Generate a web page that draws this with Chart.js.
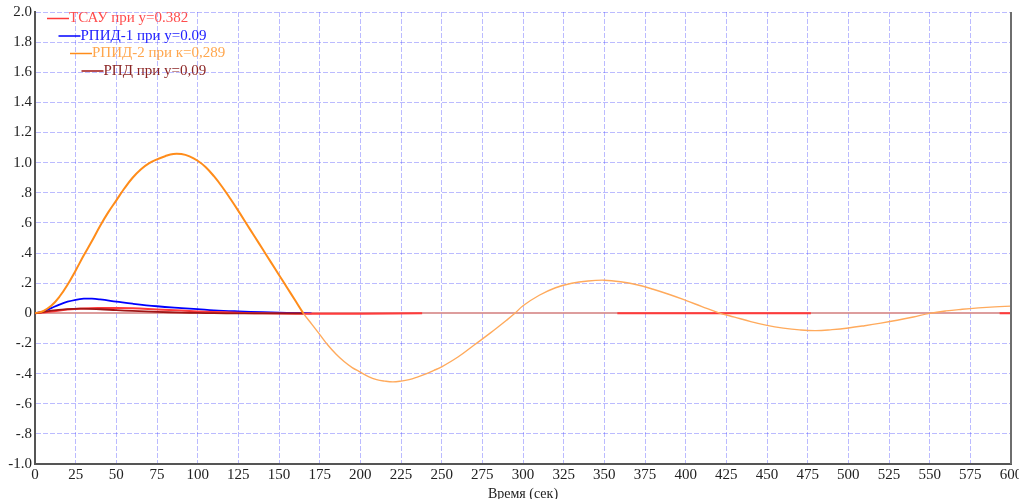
<!DOCTYPE html>
<html>
<head>
<meta charset="utf-8">
<script src="https://cdn.jsdelivr.net/npm/chart.js@4.4.0/dist/chart.umd.min.js"></script>
<style>
html,body{margin:0;padding:0;background:#fff;}
#wrap{width:1019px;height:499px;position:relative;}
</style>
</head>
<body>
<div id="wrap"><canvas id="c" width="1019" height="499"></canvas></div>
<script>
// ---- data ----
const seriesLabels = ['ТСАУ при у=0.382', 'РПИД-1 при у=0.09', 'РПИД-2 при к=0,289', 'РПД при у=0,09'];
const xTickLabels = ['0','25','50','75','100','125','150','175','200','225','250','275','300','325','350','375','400','425','450','475','500','525','550','575','600'];
const yTickLabels = ['-1.0','-.8','-.6','-.4','-.2','0','.2','.4','.6','.8','1.0','1.2','1.4','1.6','1.8','2.0'];
const xAxisTitle = 'Время (сек)';

const tsauT = [0,10,20,30,40,50,60,75,90,100,110,125,140,160,180,200,238, 239, 358,477, 478, 593,600];
const tsauV = [0,0.012,0.025,0.032,0.035,0.036,0.034,0.026,0.018,0.013,0.009,0.004,0,-0.002,-0.003,-0.002,0, null, 0,0, null, 0,0];

const rpid1T = [0,5,10,15,20,25,30,35,40,50,60,75,90,100,110,125,140,150,160,170];
const rpid1V = [0,0.012,0.035,0.058,0.077,0.09,0.097,0.097,0.092,0.078,0.064,0.047,0.035,0.028,0.02,0.013,0.008,0.005,0.002,0];

const rpid2T = [0,5,10,15,20,25,30,35,40,45,50,55,60,65,70,75,80,85,90,95,100,105,110,115,120,125,130,135,140,145,150,155,160,165,
  170,175,180,185,190,195,200,205,210,215,220,225,230,235,240,245,250,260,270,280,290,295,300,310,320,330,340,350,360,370,380,390,400,410,420,
  430,440,450,460,470,480,490,500,510,520,530,540,550,560,570,580,590,600];
const rpid2V = [0,0.015,0.05,0.11,0.19,0.285,0.385,0.48,0.58,0.67,0.75,0.83,0.9,0.955,0.995,1.022,1.043,1.058,1.057,1.042,1.013,0.97,0.91,0.84,0.762,0.68,0.595,0.51,0.425,0.34,0.255,0.17,0.085,0,
  -0.07,-0.14,-0.21,-0.27,-0.32,-0.36,-0.39,-0.42,-0.44,-0.45,-0.455,-0.45,-0.44,-0.423,-0.403,-0.38,-0.355,-0.29,-0.21,-0.13,-0.045,0,0.05,0.12,0.17,0.20,0.215,0.22,0.21,0.19,0.16,0.125,0.086,0.045,0.005,
  -0.025,-0.055,-0.08,-0.098,-0.11,-0.115,-0.108,-0.097,-0.082,-0.065,-0.046,-0.024,0,0.016,0.027,0.036,0.043,0.048];

const rpdT = [0,10,20,28,40,50,60,75,90,100,110,125,165];
const rpdV = [0,0.018,0.028,0.031,0.027,0.021,0.016,0.01,0.005,0.003,0.001,0,0];

function pts(t, v){ return t.map((x,i)=>({x:x, y:v[i]})); }

const colors = {
  tsau: '#ff3b3b', tsauText: '#ff4d4d',
  rpid1: '#0000ff', rpid1Text: '#2020ff',
  rpid2: '#ff8c1a', rpid2Late: '#ffaa5c', rpid2Text: '#ffa64d',
  rpd: '#a01515', rpdText: '#8b2525'
};

const serif = "'Liberation Serif','DejaVu Serif',serif";

const legendPlugin = {
  id: 'stairLegend',
  afterDraw(chart){
    const ctx = chart.ctx;
    const items = [
      {c: colors.tsau, t: colors.tsauText},
      {c: colors.rpid1, t: colors.rpid1Text},
      {c: colors.rpid2, t: colors.rpid2Text},
      {c: colors.rpd, t: colors.rpdText}
    ];
    ctx.save();
    ctx.font = '15px ' + serif;
    ctx.textBaseline = 'middle';
    items.forEach((it, i) => {
      const x0 = 47 + i * 11.5;
      const y = 18.5 + i * 17.5;
      ctx.strokeStyle = it.c;
      ctx.lineWidth = 1.5;
      ctx.beginPath();
      ctx.moveTo(x0, y);
      ctx.lineTo(x0 + 22, y);
      ctx.stroke();
      ctx.fillStyle = it.t;
      ctx.fillText(chart.data.datasets[i].label, x0 + 22, y);
    });
    ctx.restore();
  }
};

const rightBorder = {
  id: 'rightBorder',
  afterDraw(chart){
    const a = chart.chartArea, ctx = chart.ctx;
    ctx.save();
    ctx.strokeStyle = '#6e6e6e';
    ctx.lineWidth = 2;
    ctx.beginPath();
    ctx.moveTo(a.right, a.top);
    ctx.lineTo(a.right, a.bottom);
    ctx.stroke();
    ctx.restore();
  }
};

new Chart(document.getElementById('c'), {
  type: 'line',
  data: {
    datasets: [
      { label: seriesLabels[0], data: pts(tsauT, tsauV), borderColor: colors.tsau, borderWidth: 2, spanGaps: false, order: 3 },
      { label: seriesLabels[1], data: pts(rpid1T, rpid1V), borderColor: colors.rpid1, borderWidth: 1.8, order: 4 },
      { label: seriesLabels[2], data: pts(rpid2T, rpid2V), borderColor: colors.rpid2, borderWidth: 2, order: 1,
        segment: {
          borderColor: c => c.p0.parsed.x >= 165 ? colors.rpid2Late : colors.rpid2,
          borderWidth: c => c.p0.parsed.x >= 165 ? 1.4 : 2
        } },
      { label: seriesLabels[3], data: pts(rpdT, rpdV), borderColor: colors.rpd, borderWidth: 1.8, order: 2 }
    ]
  },
  options: {
    responsive: false,
    animation: false,
    devicePixelRatio: 1,
    layout: { padding: { left: 0, right: 8, top: 12, bottom: 0 } },
    elements: { point: { radius: 0 }, line: { tension: 0.4, fill: false } },
    plugins: { legend: { display: false }, tooltip: { enabled: false } },
    scales: {
      x: {
        type: 'linear', min: 0, max: 600,
        afterBuildTicks: s => { s.ticks = xTickLabels.map(l => ({ value: Number(l) })); },
        afterFit: s => { s.height = 35; s.paddingLeft = 0; s.paddingRight = 0; },
        ticks: { autoSkip: false, maxRotation: 0, padding: 2, color: '#222', font: { family: serif, size: 15 },
          callback: (v, i) => xTickLabels[i] },
        grid: { color: 'rgba(60,60,255,0.35)', lineWidth: 1, drawTicks: false },
        border: { display: true, color: '#555', width: 2, dash: [5, 2] },
        title: { display: true, text: xAxisTitle, color: '#222', font: { family: serif, size: 14 }, padding: { top: 0, bottom: -4 } }
      },
      y: {
        type: 'linear', min: -1, max: 2,
        afterBuildTicks: s => { s.ticks = yTickLabels.map((l, i) => ({ value: -1 + i * 0.2 })); },
        afterFit: s => { s.width = 35; s.paddingTop = 0; s.paddingBottom = 0; },
        ticks: { autoSkip: false, padding: 3, color: '#222', font: { family: serif, size: 15 },
          callback: (v, i) => yTickLabels[i] },
        grid: {
          color: c => (c.tick && Math.abs(c.tick.value) < 1e-9) ? 'rgba(215,140,140,0.85)' : 'rgba(60,60,255,0.35)',
          lineWidth: c => (c.tick && Math.abs(c.tick.value) < 1e-9) ? 2 : 1,
          drawTicks: false
        },
        border: { display: true, color: '#555', width: 2,
          dash: c => (c.tick && Math.abs(c.tick.value) < 1e-9) ? [] : [5, 2] }
      }
    }
  },
  plugins: [legendPlugin, rightBorder]
});
</script>
</body>
</html>
